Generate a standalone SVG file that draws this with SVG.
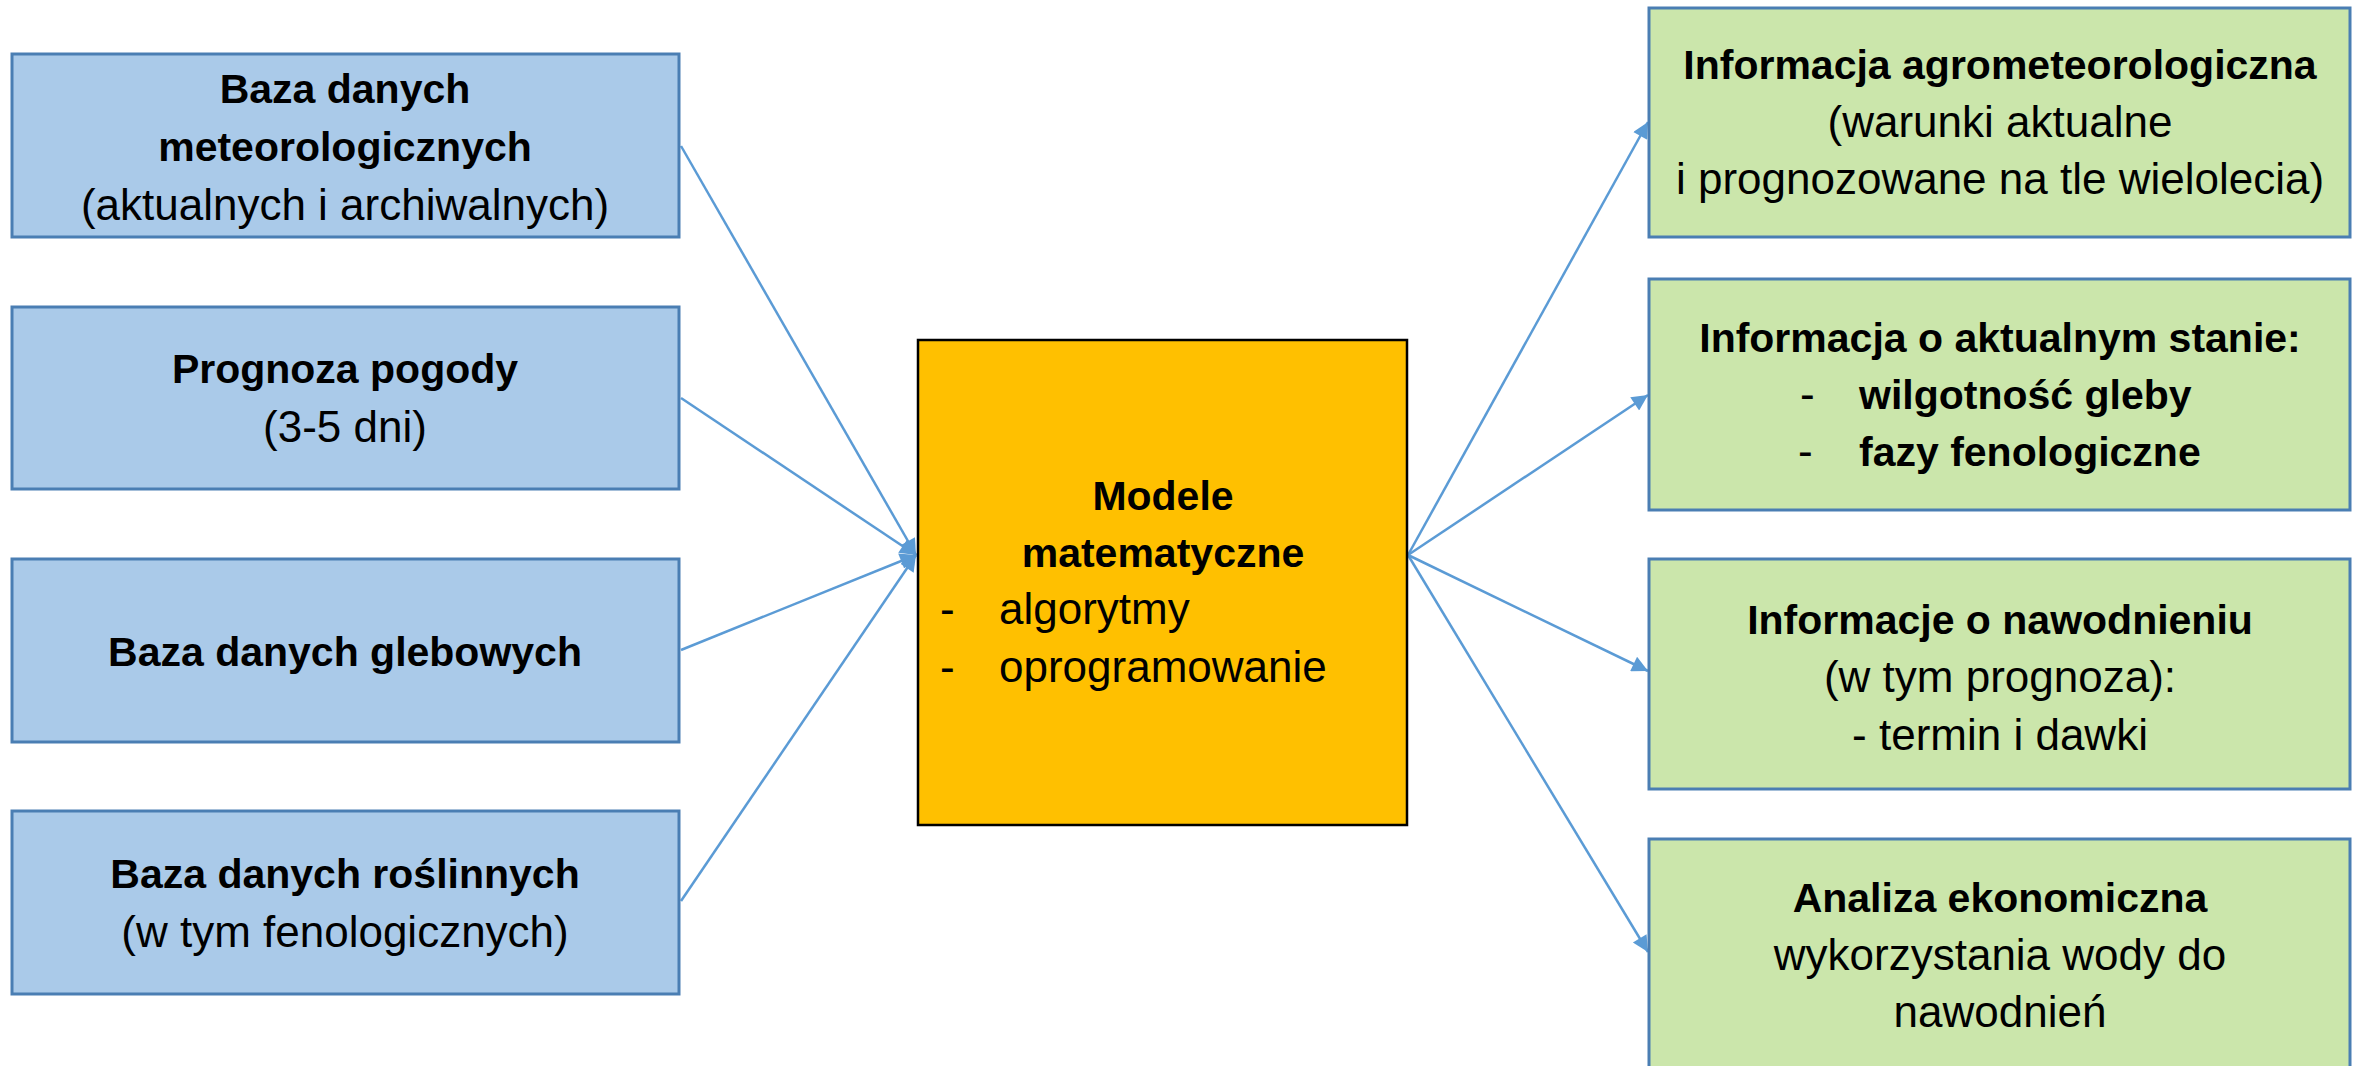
<svg xmlns="http://www.w3.org/2000/svg" width="2357" height="1066" viewBox="0 0 2357 1066">
<style>
.in{fill:#AACAE9;stroke:#4A7EB3;stroke-width:3}
.out{fill:#CBE6AB;stroke:#4A7EB3;stroke-width:3}
.core{fill:#FFC000;stroke:#000;stroke-width:2.5}
text{font-family:"Liberation Sans",Arial,sans-serif;fill:#000;font-size:44px}
.b{font-weight:bold;font-size:41px}
.c{text-anchor:middle}
.conn line{stroke:#5B9BD5;stroke-width:2.5;marker-end:url(#ah)}
</style>
<defs>
<marker id="ah" viewBox="0 0 10 10" refX="10" refY="5" markerWidth="21" markerHeight="16" markerUnits="userSpaceOnUse" orient="auto">
<path d="M0,0 L10,5 L0,10 Z" fill="#5B9BD5"/>
</marker>
</defs>
<rect width="2357" height="1066" fill="#fff"/>
<g id="connectors" class="conn">
<line x1="681" y1="146" x2="916" y2="555"/>
<line x1="681" y1="398" x2="916" y2="555"/>
<line x1="681" y1="650" x2="916" y2="555"/>
<line x1="681" y1="901" x2="916" y2="555"/>
<line x1="1408" y1="555" x2="1648" y2="122"/>
<line x1="1408" y1="555" x2="1648" y2="395"/>
<line x1="1408" y1="555" x2="1648" y2="671"/>
<line x1="1408" y1="555" x2="1648" y2="952"/>
</g>
<g id="baza-meteo">
<rect class="in" x="12" y="54" width="667" height="183"/>
<text class="b c" x="345" y="103">Baza danych</text>
<text class="b c" x="345" y="161">meteorologicznych</text>
<text class="c" x="345" y="220">(aktualnych i archiwalnych)</text>
</g>
<g id="prognoza">
<rect class="in" x="12" y="307" width="667" height="182"/>
<text class="b c" x="345" y="383">Prognoza pogody</text>
<text class="c" x="345" y="442">(3-5 dni)</text>
</g>
<g id="baza-gleb">
<rect class="in" x="12" y="559" width="667" height="183"/>
<text class="b c" x="345" y="666">Baza danych glebowych</text>
</g>
<g id="baza-rosl">
<rect class="in" x="12" y="811" width="667" height="183"/>
<text class="b c" x="345" y="888">Baza danych roślinnych</text>
<text class="c" x="345" y="947">(w tym fenologicznych)</text>
</g>
<g id="modele">
<rect class="core" x="918" y="340" width="489" height="485"/>
<text class="b c" x="1163" y="510">Modele</text>
<text class="b c" x="1163" y="567">matematyczne</text>
<text x="940" y="624">-</text>
<text x="999" y="624">algorytmy</text>
<text x="940" y="682">-</text>
<text x="999" y="682">oprogramowanie</text>
</g>
<g id="info-agro">
<rect class="out" x="1649" y="8" width="701" height="229"/>
<text class="b c" x="2000" y="79">Informacja agrometeorologiczna</text>
<text class="c" x="2000" y="137">(warunki aktualne</text>
<text class="c" x="2000" y="194">i prognozowane na tle wielolecia)</text>
</g>
<g id="info-stan">
<rect class="out" x="1649" y="279" width="701" height="231"/>
<text class="b c" x="2000" y="352">Informacja o aktualnym stanie:</text>
<text x="1800" y="409">-</text>
<text class="b" x="1859" y="409">wilgotność gleby</text>
<text x="1798" y="466">-</text>
<text class="b" x="1859" y="466">fazy fenologiczne</text>
</g>
<g id="info-naw">
<rect class="out" x="1649" y="559" width="701" height="230"/>
<text class="b c" x="2000" y="634">Informacje o nawodnieniu</text>
<text class="c" x="2000" y="692">(w tym prognoza):</text>
<text class="c" x="2000" y="750">- termin i dawki</text>
</g>
<g id="analiza">
<rect class="out" x="1649" y="839" width="701" height="232"/>
<text class="b c" x="2000" y="912">Analiza ekonomiczna</text>
<text class="c" x="2000" y="970">wykorzystania wody do</text>
<text class="c" x="2000" y="1027">nawodnień</text>
</g>
</svg>
